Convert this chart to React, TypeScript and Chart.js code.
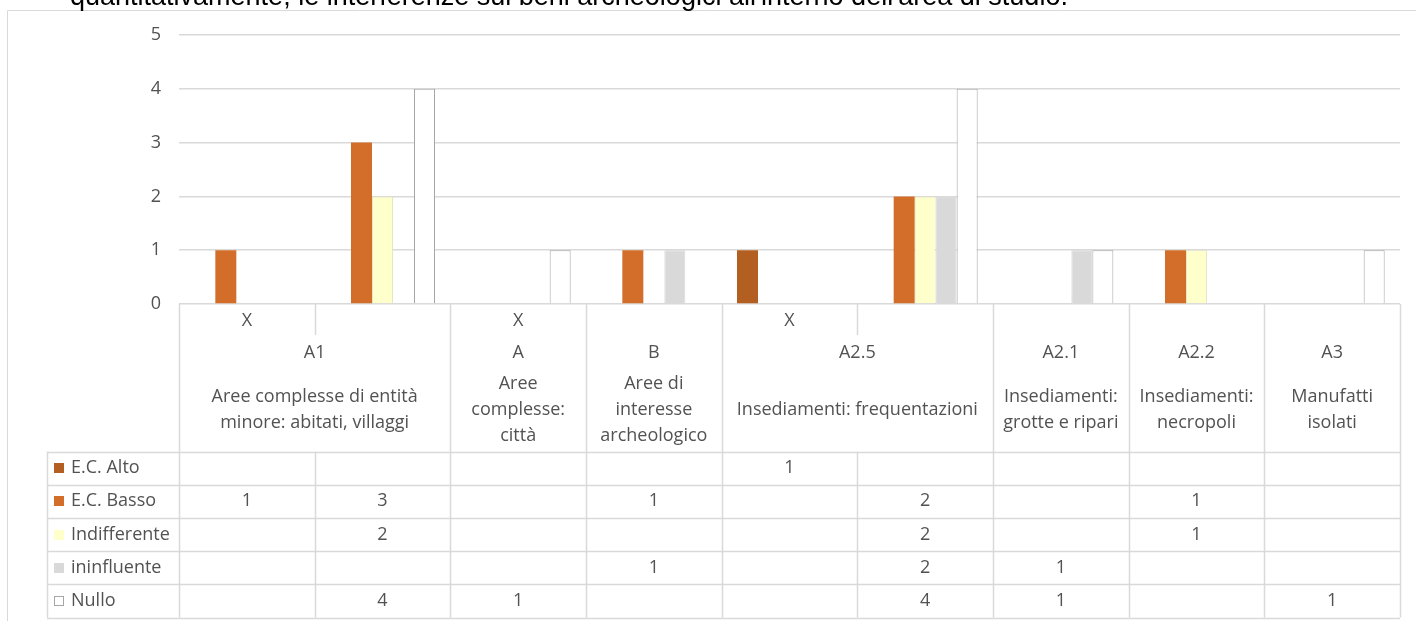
import React, { useEffect, useRef } from "react";
import { Chart, registerables } from "chart.js";
Chart.register(...registerables);

const seriesNames = ["E.C. Alto", "E.C. Basso", "Indifferente", "ininfluente", "Nullo"];
const seriesColors = ["#b45f22", "#d36e2a", "#ffffcc", "#d9d9d9", "#ffffff"];
const seriesBorders = ["#b45f22", "#d36e2a", "#e6e6c0", "#d9d9d9", "#a6a6a6"];

const level1Labels = ["X", "", "X", "", "X", "", "", "", ""];
const groupCodes = ["A1", "A", "B", "A2.5", "A2.1", "A2.2", "A3"];
const groupSpans = [2, 1, 1, 2, 1, 1, 1];
const groupDescriptions = [
  ["Aree complesse di entità", "minore: abitati, villaggi"],
  ["Aree", "complesse:", "città"],
  ["Aree di", "interesse", "archeologico"],
  ["Insediamenti: frequentazioni"],
  ["Insediamenti:", "grotte e ripari"],
  ["Insediamenti:", "necropoli"],
  ["Manufatti", "isolati"],
];

const ecAlto = [null, null, null, null, 1, null, null, null, null];
const ecBasso = [1, 3, null, 1, null, 2, null, 1, null];
const indifferente = [null, 2, null, null, null, 2, null, 1, null];
const ininfluente = [null, null, null, 1, null, 2, 1, null, null];
const nullo = [null, 4, 1, null, null, 4, 1, null, 1];

const yTicks = [0, 1, 2, 3, 4, 5];

const pageText = "quantitativamente, le interferenze sui beni archeologici all'interno dell'area di studio.";

const FONT = "'Open Sans'";
const TEXT = "#525252";
const LINE = "#d9d9d9";

function buildCategories(): string[] {
  const out: string[] = [];
  let c = 0;
  groupCodes.forEach((g, gi) => {
    for (let k = 0; k < groupSpans[gi]; k++) {
      out.push((level1Labels[c] ? level1Labels[c] + " " : "") + g + (groupSpans[gi] > 1 ? "#" + k : ""));
      c++;
    }
  });
  return out;
}

const tablePlugin = {
  id: "excelTable",
  afterDraw(chart: any) {
    const ctx = chart.ctx as CanvasRenderingContext2D;
    const xs = chart.scales.x;
    const ys = chart.scales.y;
    const n = chart.data.labels.length;
    const colW = (xs.right - xs.left) / n;
    const bounds: number[] = [];
    for (let i = 0; i < n; i++) bounds.push(xs.getPixelForValue(i) - colW / 2);
    bounds.push(xs.getPixelForValue(n - 1) + colW / 2);
    const y0 = ys.getPixelForValue(0);
    const headerBottom = 451.5;
    const rowH = 33.2;
    const labelLeft = 47;
    const seriesData = chart.data.datasets.map((d: any) => d.data);
    const rows = seriesData.length;
    const tableBottom = headerBottom + rows * rowH;
    const px = (v: number) => Math.round(v) + 0.5;

    ctx.save();
    // outer chart border
    ctx.strokeStyle = LINE;
    ctx.lineWidth = 1;
    ctx.beginPath();
    ctx.moveTo(7.5, 621);
    ctx.lineTo(7.5, 10.5);
    ctx.lineTo(1416, 10.5);
    ctx.stroke();

    // page text above
    ctx.fillStyle = "#000";
    ctx.font = "27px 'Liberation Sans'";
    ctx.textAlign = "left";
    ctx.textBaseline = "alphabetic";
    ctx.fillText(pageText, 70, 5);

    // group boundaries
    const groupStart: number[] = [];
    let c = 0;
    groupSpans.forEach((s) => {
      groupStart.push(c);
      c += s;
    });
    const isGroupBoundary = (i: number) => i === 0 || i === n || groupStart.includes(i);

    ctx.strokeStyle = LINE;
    ctx.lineWidth = 1.5;
    ctx.beginPath();
    for (let i = 0; i <= n; i++) {
      const x = px(bounds[i]);
      if (isGroupBoundary(i)) {
        ctx.moveTo(x, y0);
        ctx.lineTo(x, tableBottom);
      } else {
        ctx.moveTo(x, y0);
        ctx.lineTo(x, y0 + 31);
        ctx.moveTo(x, headerBottom);
        ctx.lineTo(x, tableBottom);
      }
    }
    ctx.moveTo(px(labelLeft), headerBottom);
    ctx.lineTo(px(labelLeft), tableBottom);
    for (let r = 0; r <= rows; r++) {
      const y = px(headerBottom + r * rowH);
      ctx.moveTo(labelLeft, y);
      ctx.lineTo(bounds[n], y);
    }
    ctx.stroke();

    // header texts
    ctx.fillStyle = TEXT;
    ctx.font = `18px ${FONT}`;
    ctx.textAlign = "center";
    ctx.textBaseline = "middle";
    for (let i = 0; i < n; i++) {
      if (level1Labels[i]) ctx.fillText(level1Labels[i], (bounds[i] + bounds[i + 1]) / 2, y0 + 17);
    }
    groupCodes.forEach((g, gi) => {
      const s = groupStart[gi];
      const cx = (bounds[s] + bounds[s + groupSpans[gi]]) / 2;
      ctx.fillText(g, cx, y0 + 49);
      const lines = groupDescriptions[gi];
      const lh = 26;
      const mid = 410;
      lines.forEach((ln, li) => {
        ctx.fillText(ln, cx, mid + (li - (lines.length - 1) / 2) * lh);
      });
    });

    // table rows
    for (let r = 0; r < rows; r++) {
      const cy = headerBottom + r * rowH + rowH / 2;
      ctx.fillStyle = seriesColors[r];
      ctx.fillRect(54, Math.round(cy - 5), 10, 10);
      ctx.strokeStyle = r === rows - 1 ? "#a6a6a6" : seriesColors[r];
      ctx.lineWidth = 1;
      if (r >= 2) ctx.strokeRect(54.5, Math.round(cy - 5) + 0.5, 9, 9);
      ctx.fillStyle = TEXT;
      ctx.textAlign = "left";
      ctx.fillText(chart.data.datasets[r].label, 71, cy);
      ctx.textAlign = "center";
      for (let i = 0; i < n; i++) {
        const v = seriesData[r][i];
        if (v !== null && v !== undefined) ctx.fillText(String(v), (bounds[i] + bounds[i + 1]) / 2, cy);
      }
    }
    ctx.restore();
  },
};

export default function App() {
  const ref = useRef<HTMLCanvasElement>(null);
  useEffect(() => {
    if (!ref.current) return;
    const data = [ecAlto, ecBasso, indifferente, ininfluente, nullo];
    const chart = new Chart(ref.current, {
      type: "bar",
      data: {
        labels: buildCategories(),
        datasets: seriesNames.map((name, i) => ({
          label: name,
          data: data[i] as any,
          backgroundColor: seriesColors[i],
          borderColor: seriesBorders[i],
          borderWidth: i >= 2 ? 1 : 0,
          categoryPercentage: 0.774,
          barPercentage: 1,
        })),
      },
      options: {
        responsive: false,
        animation: false,
        layout: { padding: { left: 0, top: 35, right: 16, bottom: 317 } },
        plugins: { legend: { display: false }, tooltip: { enabled: false } },
        scales: {
          x: {
            type: "category",
            grid: { display: false },
            border: { display: false },
            ticks: { display: false },
            afterFit: (s: any) => {
              s.height = 0;
            },
          },
          y: {
            min: 0,
            max: 5,
            afterBuildTicks: (s: any) => {
              s.ticks = yTicks.map((v) => ({ value: v }));
            },
            grid: { color: LINE, lineWidth: 1.5, drawTicks: false },
            border: { display: false },
            ticks: { color: TEXT, font: { family: FONT, size: 18 }, padding: 18 },
            afterFit: (s: any) => {
              s.width = 179;
            },
          },
        },
      },
      plugins: [tablePlugin],
    });
    return () => chart.destroy();
  }, []);
  return (
    <div style={{ position: "fixed", left: 0, top: 0, width: 1416, height: 621, background: "#fff" }}>
      <canvas ref={ref} width={1416} height={621} style={{ width: 1416, height: 621, display: "block" }} />
    </div>
  );
}
